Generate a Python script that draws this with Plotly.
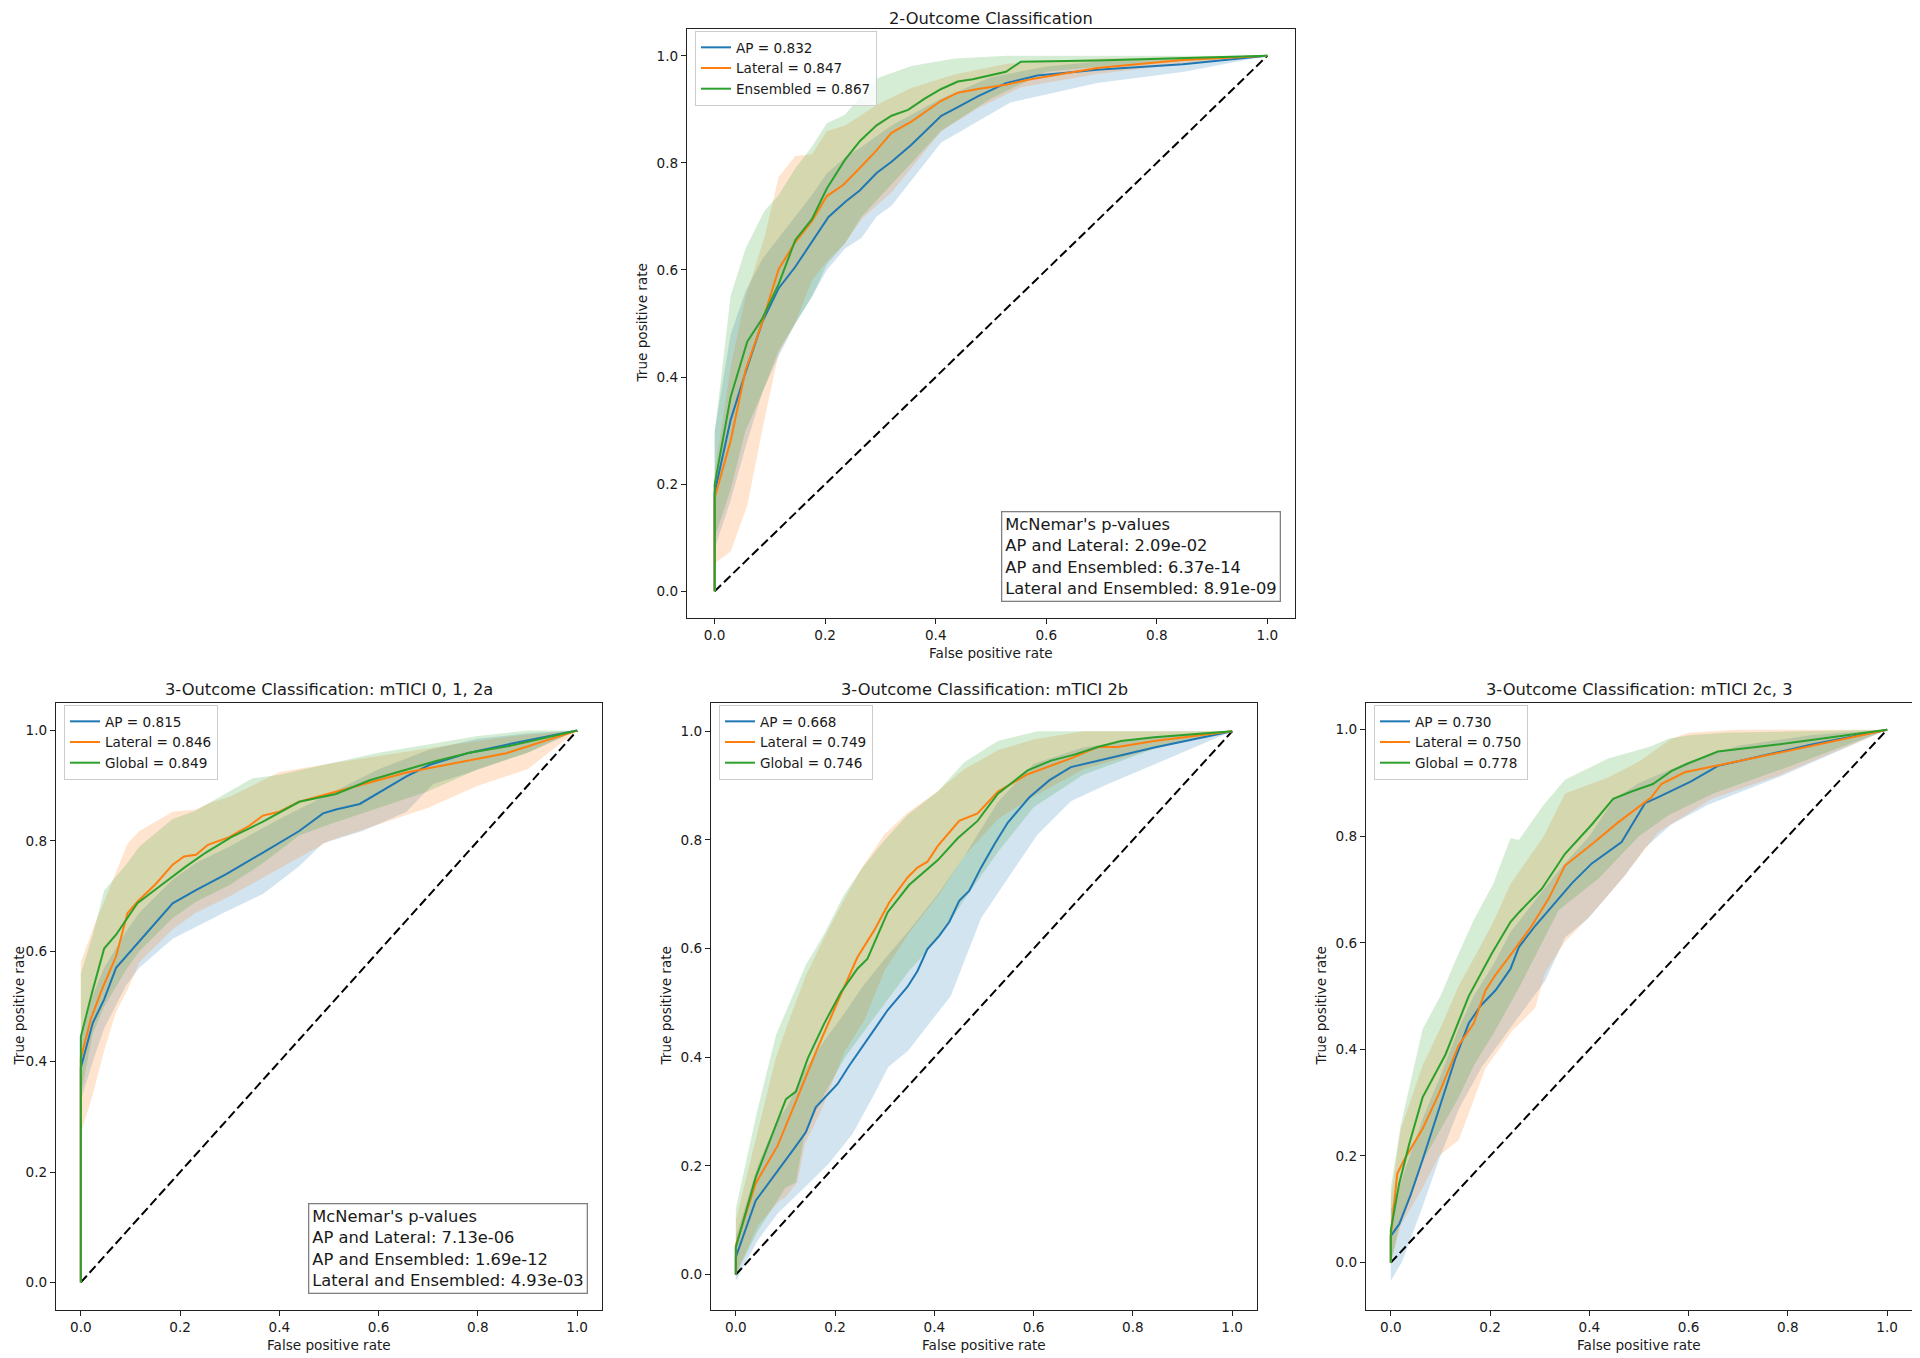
import plotly.graph_objects as go

# ---------------------------------------------------------------------------
# Data (mean ROC curves and +/- 1 std bands)
# ---------------------------------------------------------------------------

# 2-Outcome Classification
top_ap_fpr = [0, 0, 0.029, 0.056, 0.086, 0.116, 0.146, 0.176, 0.206, 0.236, 0.263, 0.293, 0.320, 0.356, 0.410, 0.440, 0.476, 0.527, 0.584, 0.692, 0.847, 1.0]
top_ap_tpr = [0, 0.184, 0.32, 0.409, 0.502, 0.566, 0.606, 0.652, 0.699, 0.727, 0.749, 0.781, 0.802, 0.834, 0.888, 0.904, 0.924, 0.949, 0.963, 0.974, 0.984, 1.0]
top_lat_fpr = [0, 0, 0.029, 0.056, 0.086, 0.116, 0.146, 0.176, 0.203, 0.233, 0.263, 0.29, 0.32, 0.356, 0.41, 0.44, 0.476, 0.527, 0.572, 0.692, 0.847, 1.0]
top_lat_tpr = [0, 0.174, 0.281, 0.413, 0.502, 0.602, 0.652, 0.691, 0.738, 0.759, 0.791, 0.82, 0.856, 0.877, 0.916, 0.931, 0.938, 0.946, 0.956, 0.977, 0.992, 1.0]
top_ens_fpr = [0, 0, 0.029, 0.059, 0.086, 0.116, 0.146, 0.176, 0.203, 0.236, 0.263, 0.293, 0.32, 0.35, 0.38, 0.41, 0.44, 0.467, 0.527, 0.554, 0.692, 1.0]
top_ens_tpr = [0, 0.199, 0.363, 0.466, 0.509, 0.574, 0.656, 0.695, 0.752, 0.806, 0.841, 0.87, 0.888, 0.899, 0.92, 0.938, 0.952, 0.956, 0.97, 0.989, 0.991, 1.0]

top_ap_hi_x = [0, 0.029, 0.056, 0.086, 0.116, 0.146, 0.176, 0.203, 0.236, 0.266, 0.32, 0.41, 0.5, 0.6, 0.7, 1.0]
top_ap_hi_y = [0.30, 0.48, 0.56, 0.62, 0.66, 0.70, 0.74, 0.78, 0.81, 0.83, 0.87, 0.92, 0.96, 0.98, 0.99, 1.0]
top_ap_lo_x = [0, 0.029, 0.056, 0.086, 0.116, 0.146, 0.176, 0.203, 0.236, 0.266, 0.293, 0.32, 0.41, 0.536, 0.692, 0.85, 1.0]
top_ap_lo_y = [0.08, 0.17, 0.27, 0.37, 0.44, 0.50, 0.55, 0.60, 0.64, 0.66, 0.70, 0.72, 0.838, 0.913, 0.949, 0.97, 1.0]
top_lat_hi_x = [0, 0.029, 0.056, 0.09, 0.116, 0.146, 0.176, 0.203, 0.236, 0.266, 0.296, 0.356, 0.434, 0.53, 0.7, 1.0]
top_lat_hi_y = [0.22, 0.42, 0.55, 0.66, 0.774, 0.813, 0.816, 0.859, 0.87, 0.89, 0.91, 0.94, 0.965, 0.985, 0.995, 1.0]
top_lat_lo_x = [0, 0.029, 0.059, 0.086, 0.116, 0.146, 0.176, 0.203, 0.236, 0.266, 0.32, 0.41, 0.476, 0.554, 0.692, 0.85, 1.0]
top_lat_lo_y = [0.052, 0.074, 0.16, 0.30, 0.445, 0.502, 0.581, 0.616, 0.65, 0.695, 0.745, 0.859, 0.902, 0.941, 0.966, 0.985, 1.0]
top_ens_hi_x = [0, 0.029, 0.056, 0.09, 0.116, 0.146, 0.176, 0.203, 0.236, 0.266, 0.296, 0.356, 0.434, 0.53, 1.0]
top_ens_hi_y = [0.295, 0.552, 0.64, 0.71, 0.74, 0.79, 0.83, 0.874, 0.89, 0.927, 0.959, 0.981, 0.995, 1.0, 1.0]
top_ens_lo_x = [0, 0.029, 0.056, 0.086, 0.116, 0.146, 0.176, 0.203, 0.236, 0.266, 0.32, 0.41, 0.5, 0.6, 0.7, 1.0]
top_ens_lo_y = [0.10, 0.19, 0.30, 0.37, 0.45, 0.50, 0.55, 0.61, 0.65, 0.70, 0.76, 0.86, 0.92, 0.97, 0.98, 1.0]

# 3-Outcome Classification: mTICI 0, 1, 2a
bl_ap_fpr = [0, 0, 0.024, 0.047, 0.071, 0.118, 0.185, 0.232, 0.293, 0.367, 0.44, 0.488, 0.514, 0.562, 0.609, 0.656, 0.703, 0.783, 0.871, 1.0]
bl_ap_tpr = [0, 0.389, 0.47, 0.513, 0.57, 0.619, 0.687, 0.711, 0.74, 0.779, 0.818, 0.85, 0.857, 0.867, 0.892, 0.917, 0.938, 0.96, 0.977, 1.0]
bl_lat_fpr = [0, 0, 0.02, 0.044, 0.071, 0.094, 0.114, 0.151, 0.185, 0.208, 0.232, 0.256, 0.299, 0.34, 0.367, 0.4, 0.44, 0.514, 0.582, 0.656, 0.857, 1.0]
bl_lat_tpr = [0, 0.406, 0.477, 0.534, 0.591, 0.669, 0.69, 0.722, 0.757, 0.772, 0.775, 0.793, 0.807, 0.828, 0.846, 0.853, 0.871, 0.889, 0.906, 0.924, 0.959, 1.0]
bl_glo_fpr = [0, 0, 0.024, 0.047, 0.071, 0.114, 0.165, 0.212, 0.252, 0.303, 0.367, 0.44, 0.514, 0.582, 0.662, 0.716, 0.783, 0.857, 1.0]
bl_glo_tpr = [0, 0.445, 0.53, 0.605, 0.63, 0.687, 0.722, 0.754, 0.779, 0.807, 0.835, 0.871, 0.885, 0.91, 0.931, 0.945, 0.96, 0.971, 1.0]

bl_ap_hi_x = [0, 0.024, 0.047, 0.094, 0.118, 0.185, 0.232, 0.3, 0.4, 0.5, 0.6, 0.7, 0.8, 0.9, 1.0]
bl_ap_hi_y = [0.44, 0.52, 0.57, 0.64, 0.67, 0.73, 0.76, 0.79, 0.84, 0.885, 0.93, 0.965, 0.985, 0.995, 1.0]
bl_ap_lo_x = [0, 0.024, 0.047, 0.091, 0.118, 0.185, 0.232, 0.293, 0.367, 0.44, 0.488, 0.568, 0.656, 0.71, 0.783, 0.9, 1.0]
bl_ap_lo_y = [0.33, 0.40, 0.46, 0.538, 0.57, 0.623, 0.645, 0.672, 0.704, 0.754, 0.796, 0.818, 0.853, 0.903, 0.924, 0.96, 1.0]
bl_lat_hi_x = [0, 0.024, 0.047, 0.094, 0.118, 0.185, 0.232, 0.259, 0.3, 0.4, 0.5, 0.632, 0.75, 0.871, 1.0]
bl_lat_hi_y = [0.58, 0.64, 0.69, 0.795, 0.818, 0.853, 0.857, 0.869, 0.88, 0.925, 0.94, 0.959, 0.975, 0.99, 1.0]
bl_lat_lo_x = [0, 0.024, 0.047, 0.071, 0.094, 0.118, 0.185, 0.232, 0.3, 0.4, 0.5, 0.6, 0.7, 0.8, 0.9, 1.0]
bl_lat_lo_y = [0.27, 0.34, 0.42, 0.49, 0.53, 0.58, 0.64, 0.67, 0.70, 0.75, 0.80, 0.83, 0.86, 0.90, 0.93, 1.0]
bl_glo_hi_x = [0, 0.024, 0.047, 0.094, 0.118, 0.185, 0.232, 0.3, 0.345, 0.4, 0.5, 0.6, 0.7, 0.8, 0.9, 1.0]
bl_glo_hi_y = [0.56, 0.63, 0.71, 0.76, 0.79, 0.84, 0.855, 0.89, 0.913, 0.92, 0.94, 0.96, 0.975, 0.99, 1.0, 1.0]
bl_glo_lo_x = [0, 0.024, 0.047, 0.094, 0.118, 0.185, 0.232, 0.3, 0.367, 0.44, 0.5, 0.6, 0.7, 0.8, 0.9, 1.0]
bl_glo_lo_y = [0.34, 0.45, 0.50, 0.57, 0.60, 0.66, 0.69, 0.72, 0.76, 0.81, 0.83, 0.86, 0.89, 0.93, 0.96, 1.0]

# 3-Outcome Classification: mTICI 2b
bm_ap_fpr = [0, 0, 0.04, 0.081, 0.118, 0.141, 0.161, 0.205, 0.228, 0.282, 0.306, 0.346, 0.366, 0.386, 0.41, 0.43, 0.45, 0.47, 0.494, 0.521, 0.548, 0.591, 0.632, 0.675, 0.729, 0.843, 1.0]
bm_ap_tpr = [0, 0.032, 0.136, 0.186, 0.233, 0.262, 0.308, 0.351, 0.384, 0.455, 0.487, 0.53, 0.559, 0.599, 0.624, 0.649, 0.688, 0.706, 0.749, 0.792, 0.832, 0.878, 0.91, 0.934, 0.946, 0.97, 1.0]
bm_lat_fpr = [0, 0, 0.04, 0.084, 0.118, 0.161, 0.205, 0.245, 0.279, 0.309, 0.346, 0.366, 0.386, 0.407, 0.45, 0.487, 0.528, 0.588, 0.675, 0.729, 0.769, 0.843, 1.0]
bm_lat_tpr = [0, 0.054, 0.168, 0.237, 0.312, 0.409, 0.502, 0.584, 0.634, 0.685, 0.731, 0.749, 0.76, 0.789, 0.835, 0.849, 0.889, 0.921, 0.95, 0.971, 0.971, 0.982, 1.0]
bm_glo_fpr = [0, 0, 0.04, 0.101, 0.121, 0.145, 0.178, 0.212, 0.245, 0.265, 0.306, 0.349, 0.407, 0.447, 0.487, 0.528, 0.588, 0.635, 0.682, 0.729, 0.776, 0.843, 1.0]
bm_glo_tpr = [0, 0.05, 0.179, 0.323, 0.337, 0.398, 0.462, 0.52, 0.563, 0.581, 0.667, 0.717, 0.763, 0.803, 0.835, 0.885, 0.928, 0.946, 0.957, 0.971, 0.982, 0.989, 1.0]

bm_ap_hi_x = [0, 0.044, 0.081, 0.104, 0.141, 0.178, 0.218, 0.255, 0.299, 0.346, 0.407, 0.46, 0.528, 0.6, 0.7, 0.85, 1.0]
bm_ap_hi_y = [0.07, 0.20, 0.28, 0.31, 0.38, 0.43, 0.48, 0.53, 0.58, 0.63, 0.70, 0.77, 0.87, 0.94, 0.97, 0.99, 1.0]
bm_ap_lo_x = [0, 0.044, 0.084, 0.139, 0.187, 0.235, 0.283, 0.307, 0.347, 0.378, 0.433, 0.494, 0.541, 0.608, 0.675, 0.743, 0.843, 1.0]
bm_ap_lo_y = [-0.011, 0.063, 0.112, 0.161, 0.204, 0.259, 0.339, 0.382, 0.412, 0.449, 0.513, 0.656, 0.72, 0.81, 0.871, 0.9, 0.939, 1.0]
bm_lat_hi_x = [0, 0.044, 0.081, 0.104, 0.141, 0.178, 0.218, 0.255, 0.299, 0.346, 0.407, 0.46, 0.528, 0.6, 0.7, 1.0]
bm_lat_hi_y = [0.10, 0.26, 0.40, 0.46, 0.55, 0.62, 0.69, 0.75, 0.81, 0.85, 0.89, 0.93, 0.965, 0.985, 1.0, 1.0]
bm_lat_lo_x = [0, 0.044, 0.088, 0.1, 0.124, 0.139, 0.171, 0.219, 0.26, 0.3, 0.35, 0.41, 0.46, 0.53, 0.6, 0.7, 0.85, 1.0]
bm_lat_lo_y = [0.0, 0.09, 0.136, 0.142, 0.17, 0.24, 0.30, 0.41, 0.47, 0.56, 0.63, 0.70, 0.77, 0.84, 0.88, 0.93, 0.97, 1.0]
bm_glo_hi_x = [0, 0.044, 0.081, 0.104, 0.141, 0.178, 0.218, 0.255, 0.299, 0.346, 0.407, 0.46, 0.528, 0.608, 1.0]
bm_glo_hi_y = [0.122, 0.305, 0.441, 0.491, 0.57, 0.627, 0.699, 0.749, 0.799, 0.846, 0.889, 0.943, 0.982, 1.0, 1.0]
bm_glo_lo_x = [0, 0.044, 0.1, 0.121, 0.139, 0.171, 0.22, 0.26, 0.3, 0.35, 0.41, 0.46, 0.53, 0.6, 0.7, 0.85, 1.0]
bm_glo_lo_y = [0.0, 0.08, 0.16, 0.17, 0.26, 0.32, 0.40, 0.45, 0.50, 0.56, 0.62, 0.69, 0.78, 0.86, 0.92, 0.97, 1.0]

# 3-Outcome Classification: mTICI 2c, 3
br_ap_fpr = [0, 0, 0.017, 0.04, 0.064, 0.097, 0.13, 0.157, 0.181, 0.211, 0.241, 0.258, 0.291, 0.365, 0.405, 0.465, 0.512, 0.538, 0.605, 0.659, 0.779, 0.848, 1.0]
br_ap_tpr = [0, 0.05, 0.072, 0.127, 0.193, 0.288, 0.383, 0.449, 0.482, 0.511, 0.551, 0.592, 0.632, 0.712, 0.749, 0.789, 0.862, 0.873, 0.903, 0.932, 0.958, 0.972, 1.0]
br_lat_fpr = [0, 0, 0.013, 0.027, 0.064, 0.097, 0.137, 0.167, 0.191, 0.211, 0.238, 0.284, 0.318, 0.351, 0.405, 0.458, 0.525, 0.545, 0.592, 0.666, 0.779, 1.0]
br_lat_tpr = [0, 0.05, 0.167, 0.193, 0.251, 0.317, 0.408, 0.449, 0.511, 0.54, 0.573, 0.632, 0.683, 0.745, 0.785, 0.826, 0.873, 0.898, 0.92, 0.934, 0.956, 1.0]
br_glo_fpr = [0, 0, 0.017, 0.037, 0.064, 0.11, 0.157, 0.204, 0.241, 0.258, 0.304, 0.351, 0.405, 0.448, 0.485, 0.528, 0.565, 0.595, 0.659, 0.779, 1.0]
br_glo_tpr = [0, 0.061, 0.149, 0.222, 0.31, 0.39, 0.5, 0.581, 0.639, 0.657, 0.701, 0.767, 0.822, 0.87, 0.884, 0.898, 0.922, 0.935, 0.959, 0.972, 1.0]

br_ap_hi_x = [0, 0.02, 0.064, 0.1, 0.137, 0.167, 0.207, 0.241, 0.308, 0.351, 0.4, 0.45, 0.5, 0.6, 0.7, 0.85, 1.0]
br_ap_hi_y = [0.10, 0.15, 0.27, 0.35, 0.44, 0.50, 0.56, 0.62, 0.70, 0.75, 0.80, 0.87, 0.90, 0.94, 0.97, 0.99, 1.0]
br_ap_lo_x = [0, 0.023, 0.064, 0.097, 0.137, 0.184, 0.237, 0.311, 0.351, 0.398, 0.472, 0.512, 0.565, 0.639, 0.779, 1.0]
br_ap_lo_y = [-0.034, 0.002, 0.105, 0.193, 0.288, 0.368, 0.434, 0.529, 0.61, 0.646, 0.727, 0.778, 0.822, 0.859, 0.91, 1.0]
br_lat_hi_x = [0, 0.02, 0.064, 0.1, 0.137, 0.167, 0.207, 0.241, 0.308, 0.351, 0.438, 0.5, 0.565, 0.6, 0.7, 1.0]
br_lat_hi_y = [0.12, 0.25, 0.37, 0.44, 0.52, 0.57, 0.64, 0.71, 0.80, 0.88, 0.91, 0.94, 0.983, 0.994, 1.0, 1.0]
br_lat_lo_x = [0, 0.02, 0.064, 0.097, 0.137, 0.157, 0.191, 0.244, 0.291, 0.311, 0.351, 0.405, 0.472, 0.538, 0.646, 0.779, 1.0]
br_lat_lo_y = [0.0, 0.07, 0.14, 0.20, 0.23, 0.28, 0.365, 0.434, 0.478, 0.544, 0.602, 0.654, 0.727, 0.807, 0.87, 0.913, 1.0]
br_glo_hi_x = [0, 0.02, 0.064, 0.1, 0.137, 0.167, 0.207, 0.241, 0.258, 0.308, 0.351, 0.391, 0.438, 0.525, 0.559, 0.605, 0.672, 1.0]
br_glo_hi_y = [0.141, 0.258, 0.438, 0.5, 0.581, 0.643, 0.712, 0.796, 0.793, 0.859, 0.906, 0.925, 0.946, 0.969, 0.983, 0.99, 0.994, 1.0]
br_glo_lo_x = [0, 0.02, 0.064, 0.1, 0.137, 0.167, 0.207, 0.258, 0.338, 0.418, 0.5, 0.56, 0.65, 0.8, 1.0]
br_glo_lo_y = [0.0, 0.08, 0.19, 0.25, 0.31, 0.37, 0.43, 0.515, 0.661, 0.72, 0.80, 0.84, 0.88, 0.93, 1.0]

titles = ["2-Outcome Classification",
          "3-Outcome Classification: mTICI 0, 1, 2a",
          "3-Outcome Classification: mTICI 2b",
          "3-Outcome Classification: mTICI 2c, 3"]
top_labels = ["AP = 0.832", "Lateral = 0.847", "Ensembled = 0.867"]
bl_labels = ["AP = 0.815", "Lateral = 0.846", "Global = 0.849"]
bm_labels = ["AP = 0.668", "Lateral = 0.749", "Global = 0.746"]
br_labels = ["AP = 0.730", "Lateral = 0.750", "Global = 0.778"]
top_pvalues = ["AP and Lateral: 2.09e-02", "AP and Ensembled: 6.37e-14", "Lateral and Ensembled: 8.91e-09"]
bl_pvalues = ["AP and Lateral: 7.13e-06", "AP and Ensembled: 1.69e-12", "Lateral and Ensembled: 4.93e-03"]
tick_vals = [0.0, 0.2, 0.4, 0.6, 0.8, 1.0]

# ---------------------------------------------------------------------------
W, H = 1920, 1358
FONT = "DejaVu Sans"
TXT = "#1a1a1a"
colors = ["#1f77b4", "#ff7f0e", "#2ca02c"]
fills = ["rgba(31,119,180,0.2)", "rgba(255,127,14,0.2)", "rgba(44,160,44,0.2)"]

# panel boxes in pixels: left, right, top, bottom ; y range
panels = [
    dict(box=(679, 1287, 21, 610), yr=[-0.05, 1.05], labels=top_labels, title=titles[0],
         curves=[(top_ap_fpr, top_ap_tpr, top_ap_hi_x, top_ap_hi_y, top_ap_lo_x, top_ap_lo_y),
                 (top_lat_fpr, top_lat_tpr, top_lat_hi_x, top_lat_hi_y, top_lat_lo_x, top_lat_lo_y),
                 (top_ens_fpr, top_ens_tpr, top_ens_hi_x, top_ens_hi_y, top_ens_lo_x, top_ens_lo_y)],
         pvals=top_pvalues),
    dict(box=(48, 594, 695, 1302), yr=[-0.05, 1.05], labels=bl_labels, title=titles[1],
         curves=[(bl_ap_fpr, bl_ap_tpr, bl_ap_hi_x, bl_ap_hi_y, bl_ap_lo_x, bl_ap_lo_y),
                 (bl_lat_fpr, bl_lat_tpr, bl_lat_hi_x, bl_lat_hi_y, bl_lat_lo_x, bl_lat_lo_y),
                 (bl_glo_fpr, bl_glo_tpr, bl_glo_hi_x, bl_glo_hi_y, bl_glo_lo_x, bl_glo_lo_y)],
         pvals=bl_pvalues),
    dict(box=(703, 1249, 695, 1302), yr=[-0.065, 1.052], labels=bm_labels, title=titles[2],
         curves=[(bm_ap_fpr, bm_ap_tpr, bm_ap_hi_x, bm_ap_hi_y, bm_ap_lo_x, bm_ap_lo_y),
                 (bm_lat_fpr, bm_lat_tpr, bm_lat_hi_x, bm_lat_hi_y, bm_lat_lo_x, bm_lat_lo_y),
                 (bm_glo_fpr, bm_glo_tpr, bm_glo_hi_x, bm_glo_hi_y, bm_glo_lo_x, bm_glo_lo_y)],
         pvals=None),
    dict(box=(1358, 1904, 695, 1302), yr=[-0.089, 1.05], labels=br_labels, title=titles[3],
         curves=[(br_ap_fpr, br_ap_tpr, br_ap_hi_x, br_ap_hi_y, br_ap_lo_x, br_ap_lo_y),
                 (br_lat_fpr, br_lat_tpr, br_lat_hi_x, br_lat_hi_y, br_lat_lo_x, br_lat_lo_y),
                 (br_glo_fpr, br_glo_tpr, br_glo_hi_x, br_glo_hi_y, br_glo_lo_x, br_glo_lo_y)],
         pvals=None),
]

fig = go.Figure()
layout = dict(width=W, height=H, margin=dict(l=0, r=0, t=0, b=0),
              paper_bgcolor="white", plot_bgcolor="white",
              font=dict(family=FONT, size=13.6, color=TXT), annotations=[])

for i, p in enumerate(panels):
    n = "" if i == 0 else str(i + 1)
    xa, ya = "x" + n, "y" + n
    leg = "legend" + n
    left, right, top, bottom = p["box"]

    # shaded +/- std bands
    for k, (fx, fy, hx, hy, lx, ly) in enumerate(p["curves"]):
        fig.add_trace(go.Scatter(x=hx + lx[::-1], y=hy + ly[::-1], fill="toself",
                                 fillcolor=fills[k], line=dict(width=0), mode="lines",
                                 hoverinfo="skip", showlegend=False, xaxis=xa, yaxis=ya))
    # chance line
    fig.add_trace(go.Scatter(x=[0, 1], y=[0, 1], mode="lines", showlegend=False,
                             line=dict(color="black", width=2, dash="9px,4px"),
                             xaxis=xa, yaxis=ya))
    # mean curves
    for k, (fx, fy, hx, hy, lx, ly) in enumerate(p["curves"]):
        fig.add_trace(go.Scatter(x=fx, y=fy, mode="lines", name=p["labels"][k],
                                 line=dict(color=colors[k], width=2),
                                 xaxis=xa, yaxis=ya, legend=leg))

    axis_common = dict(showline=True, mirror=True, linecolor="#222", linewidth=1.1,
                       ticks="outside", ticklen=5, tickwidth=1.1, tickcolor="#222",
                       showgrid=False, zeroline=False, tickvals=tick_vals, tickformat=".1f",
                       tickfont=dict(family=FONT, size=13.6, color=TXT), fixedrange=True)
    layout["xaxis" + n] = dict(axis_common, domain=[left / W, right / W], range=[-0.05, 1.05],
                               anchor=ya)
    layout["yaxis" + n] = dict(axis_common, domain=[1 - bottom / H, 1 - top / H], range=p["yr"],
                               anchor=xa)
    layout[leg] = dict(x=(left + 8) / W, y=1 - (top + 2) / H, xanchor="left", yanchor="top",
                       bgcolor="rgba(255,255,255,0.8)", bordercolor="#cccccc", borderwidth=1,
                       font=dict(family=FONT, size=13.6, color=TXT), tracegroupgap=0,
                       itemwidth=30)

    cx = (left + right) / 2 / W
    layout["annotations"] += [
        dict(text=p["title"], x=cx, y=1 - max(top - 14, 11) / H, xref="paper", yref="paper",
             xanchor="center", yanchor="middle", showarrow=False,
             font=dict(family=FONT, size=16.3, color=TXT)),
        dict(text="False positive rate", x=cx, y=1 - (bottom + 35) / H, xref="paper", yref="paper",
             xanchor="center", yanchor="middle", showarrow=False,
             font=dict(family=FONT, size=13.6, color=TXT)),
        dict(text="True positive rate", x=max(left - 46, 10) / W, y=1 - (top + bottom) / 2 / H,
             xref="paper", yref="paper", xanchor="center", yanchor="middle", textangle=-90,
             showarrow=False, font=dict(family=FONT, size=13.6, color=TXT)),
    ]
    if p["pvals"]:
        layout["annotations"].append(
            dict(text="<br>".join(["McNemar's p-values"] + p["pvals"]),
                 x=(right - 14) / W, y=1 - (bottom - 16) / H, xref="paper", yref="paper",
                 xanchor="right", yanchor="bottom", align="left", showarrow=False,
                 bordercolor="#808080", borderwidth=1.3, borderpad=3, bgcolor="white",
                 font=dict(family=FONT, size=16.3, color=TXT)))

fig.update_layout(**layout)
fig.write_html("out.html")
